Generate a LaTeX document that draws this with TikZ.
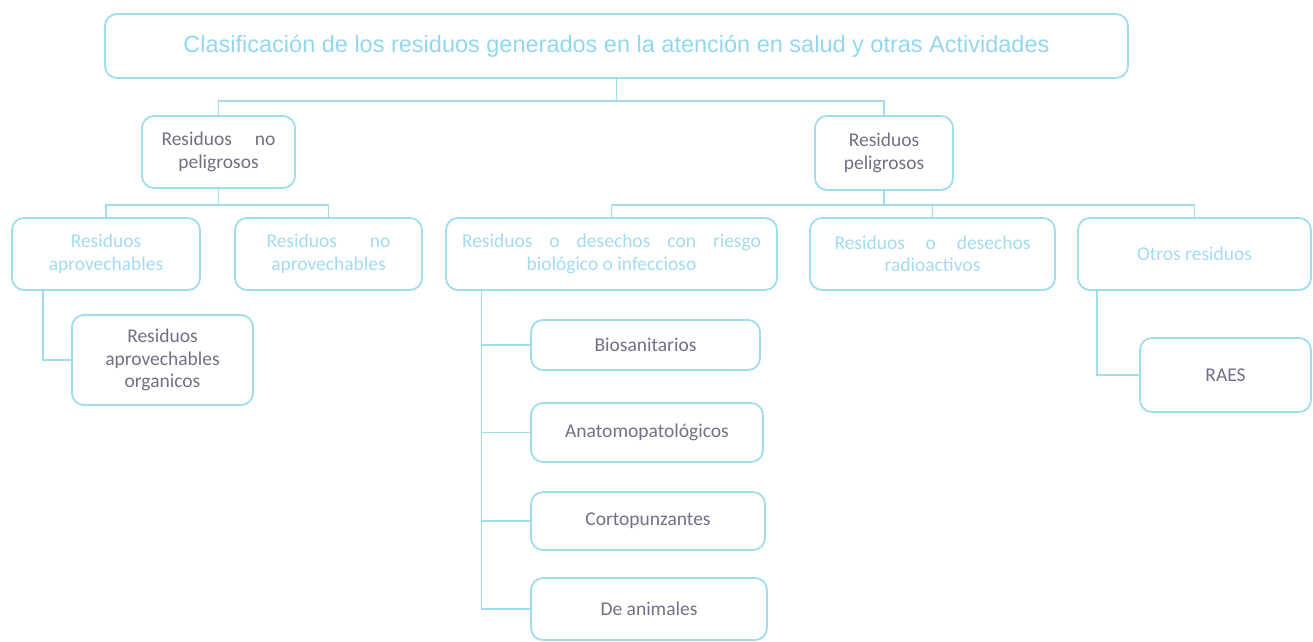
\documentclass[tikz,border=0pt]{standalone}
\usepackage{fontspec}
\setmainfont{Carlito}
\newfontfamily\titlefont{Liberation Sans}
\definecolor{bord}{HTML}{9FDDEF}
\definecolor{dark}{HTML}{707086}
\definecolor{light}{HTML}{A3DBF0}
\definecolor{ttl}{HTML}{93D7EE}
\begin{document}
\begin{tikzpicture}[x=1pt,y=-1pt,
  box/.style={draw=bord, line width=1.8pt, rounded corners=12pt, inner sep=0pt, align=center, font=\fontsize{19.5}{22.5}\selectfont},
  dk/.style={text=dark}, lt/.style={text=light},
  conn/.style={draw=bord, line width=1.3pt}]
\useasboundingbox (0,0) rectangle (1313,641);
\node[box,text=ttl,minimum width=1023pt,minimum height=64pt,font=\titlefont\fontsize{23.5}{26}\selectfont] (title) at (616.5,46) {Clasificación de los residuos generados en la atención en salud y otras Actividades};
\node[box,dk,minimum width=153pt,minimum height=72pt] (np) at (218.5,152) {\makebox[114pt][s]{Residuos no}\\peligrosos};
\node[box,dk,minimum width=138pt,minimum height=74pt] (p) at (884,153) {Residuos\\peligrosos};
\node[box,lt,minimum width=188pt,minimum height=72pt] (ap) at (106,254) {Residuos\\aprovechables};
\node[box,lt,minimum width=187pt,minimum height=72pt] (nap) at (328.5,254) {\makebox[124pt][s]{Residuos no}\\aprovechables};
\node[box,dk,minimum width=181pt,minimum height=90pt] (org) at (162.5,360) {Residuos\\aprovechables\\organicos};
\node[box,lt,minimum width=331pt,minimum height=72pt] (bio) at (611.5,254) {\makebox[299pt][s]{Residuos o desechos con riesgo}\\biológico o infeccioso};
\node[box,lt,minimum width=245pt,minimum height=72pt] (rad) at (932.5,254) {\makebox[196pt][s]{Residuos o desechos}\\radioactivos};
\node[box,lt,minimum width=233pt,minimum height=72pt] (otr) at (1194.5,254) {Otros residuos};
\node[box,dk,minimum width=229pt,minimum height=50pt] (bs) at (645.5,345) {Biosanitarios};
\node[box,dk,minimum width=232pt,minimum height=59pt] (an) at (647,432.5) {Anatomopatológicos};
\node[box,dk,minimum width=234pt,minimum height=58pt] (co) at (648,521) {Cortopunzantes};
\node[box,dk,minimum width=236pt,minimum height=62pt] (da) at (649,609) {De animales};
\node[box,dk,minimum width=171pt,minimum height=74pt] (raes) at (1225.5,375) {RAES};
% connectors
\coordinate (h1) at ([yshift=-22pt]title.south);
\draw[conn] (title.south) -- (h1);
\draw[conn] (h1) -| (np.north);
\draw[conn] (h1) -| (p.north);
\coordinate (h2) at ([yshift=-16pt]np.south);
\draw[conn] (np.south) -- (h2);
\draw[conn] (h2) -| (ap.north);
\draw[conn] (h2) -| (nap.north);
\coordinate (h3) at ([yshift=-14pt]p.south);
\draw[conn] (p.south) -- (h3);
\draw[conn] (h3) -| (bio.north);
\draw[conn] (h3) -| (rad.north);
\draw[conn] (h3) -| (otr.north);
\draw[conn] ([xshift=-63pt]ap.south) |- (org.west);
\draw[conn] ([xshift=-130pt]bio.south) |- (bs.west);
\draw[conn] ([xshift=-130pt]bio.south) |- (an.west);
\draw[conn] ([xshift=-130pt]bio.south) |- (co.west);
\draw[conn] ([xshift=-130pt]bio.south) |- (da.west);
\draw[conn] ([xshift=-97.5pt]otr.south) |- (raes.west);
\end{tikzpicture}
\end{document}
